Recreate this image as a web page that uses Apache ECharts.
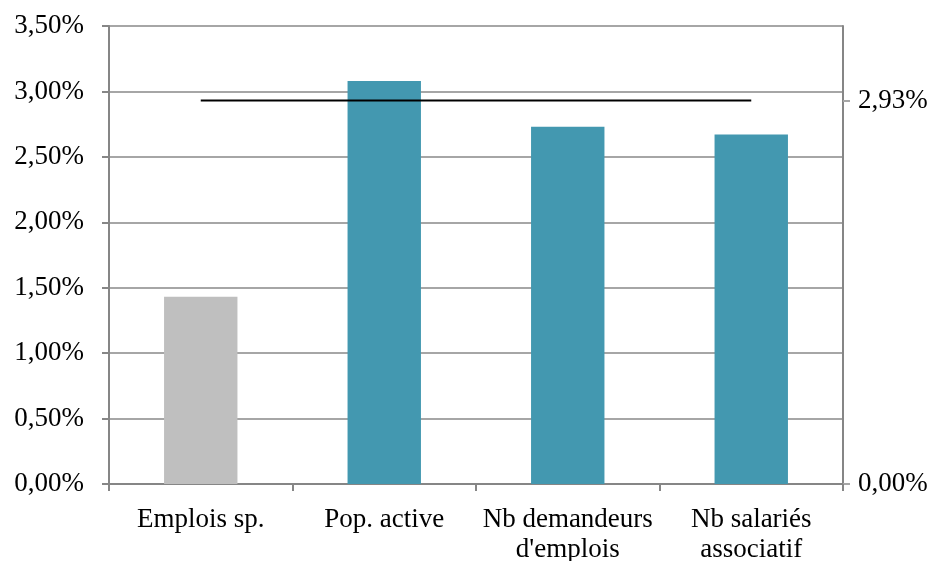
<!DOCTYPE html>
<html>
<head>
<meta charset="utf-8">
<script src="https://cdn.jsdelivr.net/npm/echarts@6/dist/echarts.min.js"></script>
<style>html,body{margin:0;padding:0;background:#fff}#c{width:943px;height:561px}</style>
</head>
<body>
<div id="c"></div>
<script>
const categories = ['Emplois sp.', 'Pop. active', 'Nb demandeurs\nd\'emplois', 'Nb salariés\nassociatif'];
const barValues = [1.43, 3.08, 2.73, 2.67];
const averageValue = 2.93;
const averageLine = [averageValue, averageValue, averageValue, averageValue];
const leftTicks = [0, 0.5, 1, 1.5, 2, 2.5, 3, 3.5];
const rightTicks = [0, averageValue];

const fmt = v => v.toFixed(2).replace('.', ',') + '%';
const barColors = ['#BFBFBF', '#4398B0', '#4398B0', '#4398B0'];
const font = 'Liberation Serif';

const chart = echarts.init(document.getElementById('c'), null, {renderer: 'canvas'});
chart.setOption({
  animation: false,
  backgroundColor: '#ffffff',
  grid: {left: 109, right: 100, top: 26, bottom: 77, containLabel: false, outerBoundsMode: 'none'},
  xAxis: {
    type: 'category',
    data: categories,
    boundaryGap: true,
    axisLine: {show: true, lineStyle: {color: '#868686', width: 2}},
    axisTick: {show: true, alignWithLabel: false, length: 7, lineStyle: {color: '#868686', width: 2}},
    axisLabel: {color: '#000', fontFamily: font, fontSize: 27, margin: 21, lineHeight: 30, interval: 0}
  },
  yAxis: [{
    type: 'value',
    min: 0, max: 3.5, interval: 0.5,
    position: 'left',
    axisLine: {show: true, lineStyle: {color: '#868686', width: 2}},
    axisTick: {show: true, length: 7, lineStyle: {color: '#868686', width: 2}},
    axisLabel: {color: '#000', fontFamily: font, fontSize: 27, margin: 25, formatter: fmt,
      customValues: leftTicks},
    splitLine: {show: true, lineStyle: {color: '#A6A6A6', width: 2}}
  }, {
    type: 'value',
    min: 0, max: 3.5,
    position: 'right',
    axisLine: {show: true, lineStyle: {color: '#868686', width: 2}},
    axisTick: {show: true, length: 7, customValues: rightTicks, lineStyle: {color: '#A6A6A6', width: 2}},
    axisLabel: {color: '#000', fontFamily: font, fontSize: 27, margin: 15, formatter: fmt,
      customValues: rightTicks},
    splitLine: {show: false}
  }],
  series: [{
    type: 'bar',
    yAxisIndex: 0,
    barWidth: '40%',
    data: barValues.map((v, i) => ({value: v, itemStyle: {color: barColors[i]}}))
  }, {
    type: 'line',
    yAxisIndex: 1,
    data: averageLine,
    symbol: 'none',
    lineStyle: {color: '#000', width: 2},
    z: 5
  }]
});
</script>
</body>
</html>
